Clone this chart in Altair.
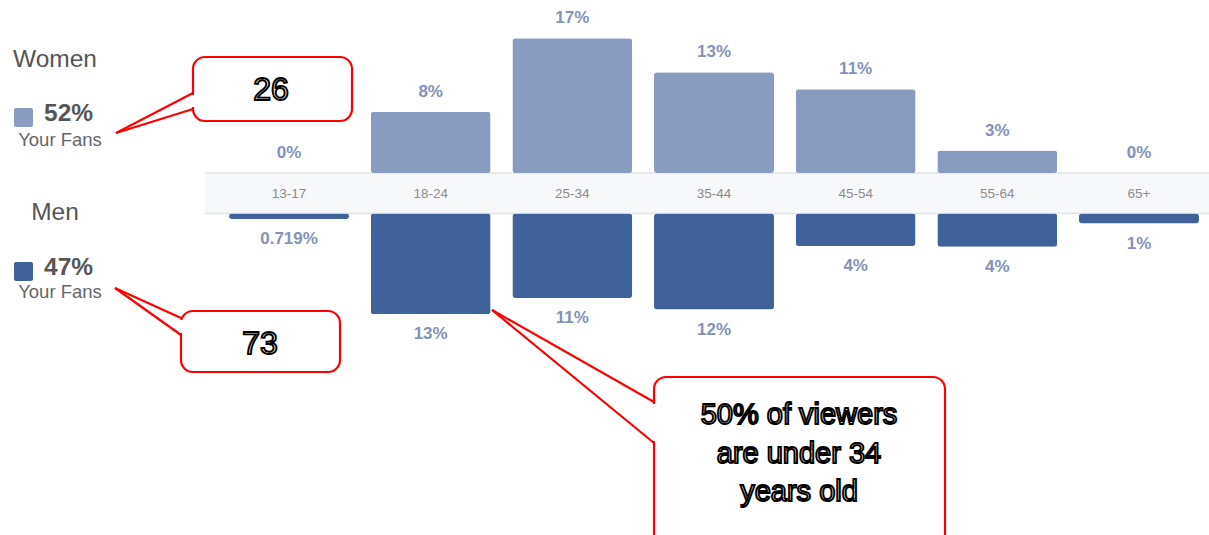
import altair as alt
import pandas as pd

# ---- data ----
ages = ["13-17", "18-24", "25-34", "35-44", "45-54", "55-64", "65+"]
women = [0.0, 7.9, 17.4, 13.0, 10.8, 2.9, 0.0]
men = [0.719, 13.0, 10.9, 12.4, 4.2, 4.3, 1.3]
women_labels = ["0%", "8%", "17%", "13%", "11%", "3%", "0%"]
men_labels = ["0.719%", "13%", "11%", "12%", "4%", "4%", "1%"]

legend_titles = ["Women", "Men"]
legend_shares = ["52%", "47%"]
legend_sub = "Your Fans"
callout_a = "26"
callout_b = "73"
callout_c = ["50% of viewers", "are under 34", "years old"]

df = pd.DataFrame({"age": ages, "women": women, "men": men,
                   "wl": women_labels, "ml": men_labels})
one = pd.DataFrame({"k": [0]})

W, H = 1209, 535
FONT = "Liberation Sans"
WOMEN_C = "#8a9bc2"
MEN_C = "#3e6299"
LABEL_C = "#8492b8"
RED = "#ff0000"

xscale = alt.Scale(domain=ages, range=[218.2, 1209.8], paddingInner=0.153, paddingOuter=0.0765)
xs = alt.X("age:N", sort=ages, axis=None, scale=xscale)
wscale = alt.Scale(domain=[0, 20], range=[173, 18], zero=True, nice=False)
mscale = alt.Scale(domain=[0, 20], range=[213.5, 368.5], zero=True, nice=False)

layers = []

# band with age labels
layers.append(alt.Chart(one).mark_rect(fill="#f7f8fa").encode(
    x=alt.value(205), x2=alt.value(W), y=alt.value(173), y2=alt.value(213.5)))
for yy in (173, 213.5):
    layers.append(alt.Chart(one).mark_rule(color="#e2e3e6", strokeWidth=1.4).encode(
        x=alt.value(205), x2=alt.value(W), y=alt.value(yy)))
layers.append(alt.Chart(df).mark_text(font=FONT, fontSize=13.5, color="#8c8c8c").encode(
    x=xs, y=alt.value(194), text="age:N"))

# bars
layers.append(alt.Chart(df).mark_bar(cornerRadius=3, color=WOMEN_C).encode(
    x=xs, y=alt.Y("women:Q", scale=wscale, axis=None)))
layers.append(alt.Chart(df).mark_bar(cornerRadius=3, color=MEN_C).encode(
    x=xs, y=alt.Y("men:Q", scale=mscale, axis=None)))
layers.append(alt.Chart(df).mark_text(font=FONT, fontSize=17, fontWeight="bold", color=LABEL_C,
                                      dy=-20).encode(
    x=xs, y=alt.Y("women:Q", scale=wscale, axis=None), text="wl:N"))
layers.append(alt.Chart(df).mark_text(font=FONT, fontSize=17, fontWeight="bold", color=LABEL_C,
                                      dy=20).encode(
    x=xs, y=alt.Y("men:Q", scale=mscale, axis=None), text="ml:N"))

# left legend
def txt(s, x, y, size, color="#555555", weight="normal", align="left", **kw):
    return alt.Chart(one).mark_text(text=s, font=FONT, fontSize=size, color=color,
                                    fontWeight=weight, align=align, baseline="middle", **kw).encode(
        x=alt.value(x), y=alt.value(y))

layers.append(txt(legend_titles[0], 55, 60, 24.5, align="center"))
layers.append(txt(legend_titles[1], 55, 213, 24.5, align="center"))
for (y0, c, share, ys, ysub) in ((108, WOMEN_C, legend_shares[0], 114, 140),
                                 (262, MEN_C, legend_shares[1], 268, 292)):
    layers.append(alt.Chart(one).mark_rect(fill=c, cornerRadius=2).encode(
        x=alt.value(14), x2=alt.value(33), y=alt.value(y0), y2=alt.value(y0 + 19)))
    layers.append(txt(share, 44, ys, 24.5, color="#555555", weight="bold"))
    layers.append(txt(legend_sub, 60, ysub, 18.5, color="#666666", align="center"))

# callouts
def box(x1, y1, x2, y2):
    return alt.Chart(one).mark_rect(fill="white", stroke=RED, strokeWidth=2.2, cornerRadius=12).encode(
        x=alt.value(x1), x2=alt.value(x2), y=alt.value(y1), y2=alt.value(y2))

def rule(x1, y1, x2, y2, color=RED, w=2.2):
    return alt.Chart(one).mark_rule(color=color, strokeWidth=w).encode(
        x=alt.value(x1), y=alt.value(y1), x2=alt.value(x2), y2=alt.value(y2))

def ctext(s, x, y, size):
    return alt.Chart(one).mark_text(text=s, font=FONT, fontSize=size, fill="white", stroke="#000000",
                                    strokeWidth=1.9, align="center", baseline="middle").encode(
        x=alt.value(x), y=alt.value(y))

# callout 1
layers += [box(193, 57, 352, 121),
           rule(193, 95, 193, 107, "white", 4),
           rule(193, 93, 116, 133), rule(193, 109, 116, 133),
           ctext(callout_a, 271, 90, 32)]
# callout 2
layers += [box(181, 311, 340, 372),
           rule(181, 320, 181, 333, "white", 4),
           rule(181, 318, 115, 288), rule(181, 335, 115, 288),
           ctext(callout_b, 260, 344, 32)]
# callout 3
layers += [box(654, 377, 945, 548),
           rule(654, 404, 654, 441, "white", 4),
           rule(654, 402, 492, 310), rule(654, 443, 492, 310)]
for i, line in enumerate(callout_c):
    layers.append(ctext(line, 799, 415 + 38.5 * i, 29))

chart = alt.layer(*layers).resolve_scale(y="independent").properties(
    width=W, height=H, autosize="none", padding=0, background="white"
).configure_view(stroke=None)

chart.save("out.html", embed_options={"renderer": "svg", "actions": False})
